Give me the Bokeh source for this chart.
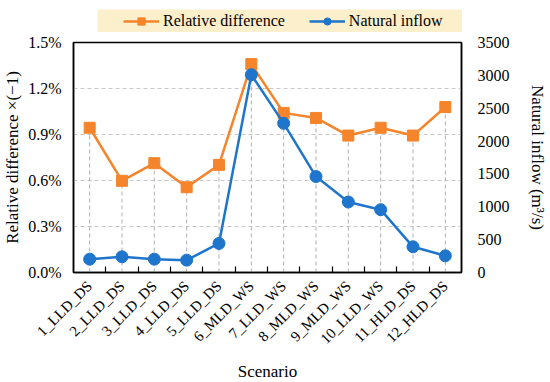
import math
from bokeh.plotting import figure
from bokeh.layouts import column, row
from bokeh.models import (Range1d, LinearAxis, FixedTicker, PrintfTickFormatter,
                          Legend, LegendItem, ColumnDataSource, Spacer)
from bokeh.embed import file_html
from bokeh.resources import INLINE

# ---- data ----
scenarios = ["1_LLD_DS", "2_LLD_DS", "3_LLD_DS", "4_LLD_DS", "5_LLD_DS", "6_MLD_WS",
             "7_LLD_WS", "8_MLD_WS", "9_MLD_WS", "10_LLD_WS", "11_HLD_DS", "12_HLD_DS"]
rel_diff = [0.944, 0.598, 0.713, 0.556, 0.702, 1.359, 1.041, 1.008, 0.893, 0.944, 0.893, 1.079]  # %
inflow = [203, 239, 203, 188, 442, 3010, 2270, 1460, 1073, 956, 391, 254]  # m3/s
left_ticks = [0.0, 0.3, 0.6, 0.9, 1.2, 1.5]
right_ticks = [0, 500, 1000, 1500, 2000, 2500, 3000, 3500]
series_names = ["Relative difference", "Natural inflow"]

xs = list(range(1, len(scenarios) + 1))
bounds = [x + 0.5 for x in xs[:-1]]
zeros = [0.0] * len(xs)

src = ColumnDataSource(dict(x=xs, rel=rel_diff, inflow=inflow, zero=zeros))

ORANGE = "#F5842A"
BLUE = "#1F75CB"
FONT = "Liberation Serif"

p = figure(frame_width=388, frame_height=230, output_backend="svg", toolbar_location=None,
           x_range=Range1d(0.5, 12.5), y_range=Range1d(0, 1.5),
           min_border_left=69, min_border_right=80, min_border_top=10, min_border_bottom=100)
p.outline_line_color = "black"
p.outline_line_width = 1.5
p.background_fill_color = "white"
p.border_fill_color = "white"

p.extra_y_ranges = {"inflow": Range1d(0, 3500)}

# grids
p.xgrid.visible = False
p.ygrid.ticker = FixedTicker(ticks=left_ticks)
p.ygrid.grid_line_color = "#C8C8C8"
p.ygrid.grid_line_dash = "4 3"
p.ygrid.grid_line_width = 1

# x axis
xa = p.xaxis[0]
xa.ticker = FixedTicker(ticks=xs, minor_ticks=bounds)
xa.major_label_overrides = {x: s for x, s in zip(xs, scenarios)}
xa.major_label_orientation = math.pi / 4
xa.major_tick_in = 0
xa.major_tick_out = 0
xa.minor_tick_in = 6
xa.minor_tick_out = 0
xa.minor_tick_line_color = "black"
xa.minor_tick_line_width = 1.2
xa.axis_line_color = "black"
xa.axis_line_width = 1.5
xa.major_label_text_font = FONT
xa.major_label_text_font_size = "15px"
xa.major_label_text_color = "black"
xa.major_label_standoff = 11
xa.axis_label = "Scenario"
xa.axis_label_text_font = FONT
xa.axis_label_text_font_size = "17px"
xa.axis_label_text_font_style = "normal"
xa.axis_label_text_color = "black"
xa.axis_label_standoff = 6

# left axis
ya = p.yaxis[0]
ya.ticker = FixedTicker(ticks=left_ticks)
ya.formatter = PrintfTickFormatter(format="%.1f%%")
ya.major_tick_in = 0
ya.major_tick_out = 0
ya.minor_tick_in = 0
ya.minor_tick_out = 0
ya.axis_line_color = "black"
ya.axis_line_width = 1.5
ya.major_label_text_font = FONT
ya.major_label_text_font_size = "16px"
ya.major_label_text_color = "black"
ya.major_label_standoff = 12
ya.axis_label = "Relative difference \u00d7(\u22121)"
ya.axis_label_text_font = FONT
ya.axis_label_text_font_size = "17px"
ya.axis_label_text_font_style = "normal"
ya.axis_label_text_color = "black"
ya.axis_label_standoff = 3

# right axis
ra = LinearAxis(y_range_name="inflow", ticker=FixedTicker(ticks=right_ticks))
ra.major_tick_in = 0
ra.major_tick_out = 0
ra.minor_tick_in = 0
ra.minor_tick_out = 0
ra.axis_line_color = "black"
ra.axis_line_width = 1.5
ra.major_label_text_font = FONT
ra.major_label_text_font_size = "16px"
ra.major_label_text_color = "black"
ra.major_label_standoff = 16
ra.axis_label = "Natural inflow (m\u00b3/s)"
ra.axis_label_text_font = FONT
ra.axis_label_text_font_size = "17px"
ra.axis_label_text_font_style = "normal"
ra.axis_label_text_color = "black"
ra.axis_label_standoff = 15
p.add_layout(ra, "right")

# drop lines
p.segment(x0="x", y0="zero", x1="x", y1="rel", source=src,
          line_color="#AFAFAF", line_dash="4 3", line_width=1)

# series
p.line("x", "rel", source=src, line_color=ORANGE, line_width=2.5)
p.scatter("x", "rel", source=src, marker="square", size=11,
          fill_color=ORANGE, line_color=ORANGE)
p.line("x", "inflow", source=src, y_range_name="inflow", line_color=BLUE, line_width=2.5)
p.scatter("x", "inflow", source=src, y_range_name="inflow", marker="circle", size=12,
          fill_color=BLUE, line_color=BLUE)

# ---- legend strip (separate small figure above the chart) ----
LEG_BG = "#FCEFCB"
lg = figure(width=365, height=23, output_backend="svg", toolbar_location=None,
            x_range=Range1d(0, 1), y_range=Range1d(0, 1), min_border=0,
            x_axis_type=None, y_axis_type=None)
lg.outline_line_color = None
lg.background_fill_color = LEG_BG
lg.border_fill_color = LEG_BG
lg.xgrid.visible = False
lg.ygrid.visible = False
# legend-only renderers: their single point lies outside the strip's range, so only
# the legend glyphs show
hidden = ColumnDataSource(dict(x=[-5.0], y=[-5.0]))
el1 = lg.line("x", "y", source=hidden, line_color=ORANGE, line_width=2.5)
es1 = lg.scatter("x", "y", source=hidden, marker="square", size=11,
                 fill_color=ORANGE, line_color=ORANGE)
el2 = lg.line("x", "y", source=hidden, line_color=BLUE, line_width=2.5)
es2 = lg.scatter("x", "y", source=hidden, marker="circle", size=12,
                 fill_color=BLUE, line_color=BLUE)
legend = Legend(items=[LegendItem(label=series_names[0], renderers=[el1, es1]),
                       LegendItem(label=series_names[1], renderers=[el2, es2])],
                orientation="horizontal", location=(26, 2))
legend.background_fill_alpha = 0
legend.border_line_color = None
legend.label_text_font = FONT
legend.label_text_font_size = "16px"
legend.label_text_color = "black"
legend.glyph_width = 36
legend.glyph_height = 18
legend.label_height = 18
legend.label_standoff = 4
legend.spacing = 24
legend.padding = 0
legend.margin = 0
lg.add_layout(legend, "center")

layout = column(Spacer(width=10, height=9),
                row(Spacer(width=97, height=23), lg),
                p)

open("out.html", "w").write(file_html(layout, INLINE))
